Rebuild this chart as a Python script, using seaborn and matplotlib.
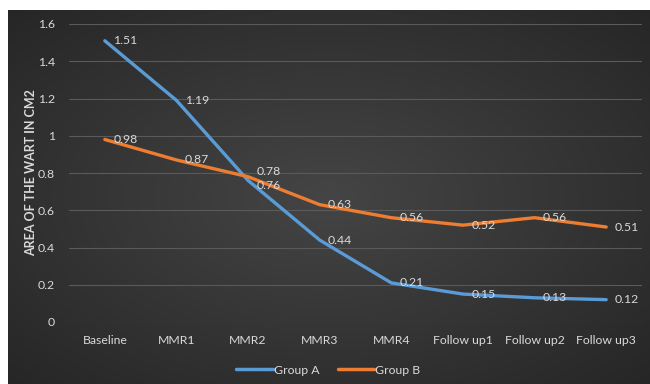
import numpy as np
import pandas as pd
import matplotlib
matplotlib.use("Agg")
import matplotlib.pyplot as plt
import seaborn as sns

# Wart area (cm2) per visit for each treatment group
visits = ["Baseline", "MMR1", "MMR2", "MMR3", "MMR4",
          "Follow up1", "Follow up2", "Follow up3"]
group_a = [1.51, 1.19, 0.76, 0.44, 0.21, 0.15, 0.13, 0.12]
group_b = [0.98, 0.87, 0.78, 0.63, 0.56, 0.52, 0.56, 0.51]
y_ticks = [0, 0.2, 0.4, 0.6, 0.8, 1, 1.2, 1.4, 1.6]
y_tick_labels = ["0", "0.2", "0.4", "0.6", "0.8", "1", "1.2", "1.4", "1.6"]

df = pd.DataFrame({
    "visit": visits * 2,
    "idx": list(range(len(visits))) * 2,
    "area": group_a + group_b,
    "group": ["Group A"] * len(visits) + ["Group B"] * len(visits),
})

sns.set_theme(style="white")
plt.rcParams["font.family"] = ["Lato", "DejaVu Sans"]

TEXT = "#d9d9d9"
GRID = "#5a5a5a"
FS = 8.8
palette = {"Group A": "#5b9bd5", "Group B": "#ed7d31"}

W, H = 650, 384
fig = plt.figure(figsize=(W / 100, H / 100), dpi=100, facecolor="white")

# dark radial-gradient panel behind the chart
bg = fig.add_axes([8 / W, 0, 1 - 8 / W, 1 - 10 / H], zorder=0)
yy, xx = np.mgrid[-1:1:200j, -1:1:340j]
r = np.sqrt(xx ** 2 + yy ** 2) / np.sqrt(2)
shade = 0.27 - 0.12 * r
bg.imshow(np.dstack([shade, shade, shade]), aspect="auto",
          extent=[0, 1, 0, 1], interpolation="bilinear")
bg.set_axis_off()

ax = fig.add_axes([69 / W, 62 / H, (642 - 69) / W, (322 - 24) / H], zorder=1)
ax.set_facecolor("none")

sns.lineplot(data=df, x="idx", y="area", hue="group", palette=palette,
             linewidth=2.4, ax=ax, legend=False, sort=False)

# value labels to the right of each point; the two crossing labels at MMR2
# are nudged apart slightly
for vals, grp in ((group_a, "Group A"), (group_b, "Group B")):
    for i, v in enumerate(vals):
        dy = 0
        if i == 2:
            dy = -3.5 if grp == "Group A" else 3.5
        ax.annotate(f"{v:.2f}", (i, v), xytext=(6, dy),
                    textcoords="offset points", ha="left", va="center",
                    color=TEXT, fontsize=FS)

ax.set_xlim(-0.5, len(visits) - 0.5)
ax.set_ylim(0, 1.6)
ax.set_xticks(range(len(visits)))
ax.set_xticklabels(visits, color=TEXT, fontsize=FS)
ax.set_yticks(y_ticks)
ax.set_yticklabels(y_tick_labels, color=TEXT, fontsize=FS)
ax.tick_params(axis="y", length=0, pad=10)
ax.tick_params(axis="x", length=0, pad=9)
ax.grid(axis="y", color=GRID, linewidth=0.8)
ax.set_axisbelow(True)
for s in ax.spines.values():
    s.set_visible(False)
ax.set_xlabel("")
ax.set_ylabel("AREA OF THE WART IN CM2", color=TEXT, fontsize=9,
              fontweight="bold")
ax.yaxis.set_label_coords((37 - 69) / (642 - 69), 0.5)

handles = [plt.Line2D([], [], color=palette[g], linewidth=2.5) for g in palette]
fig.legend(handles, list(palette), loc="center", bbox_to_anchor=(0.505, 14 / H),
           ncol=2, frameon=False, fontsize=FS, labelcolor=TEXT,
           handlelength=3.0, handletextpad=0.1, columnspacing=1.5)

fig.savefig("out.png", dpi=100, facecolor=fig.get_facecolor())
